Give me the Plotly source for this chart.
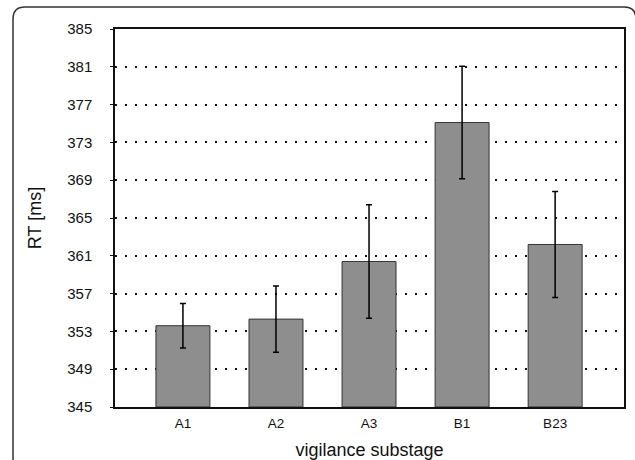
import plotly.graph_objects as go

categories = ["A1", "A2", "A3", "B1", "B23"]
rt_mean = [353.6, 354.3, 360.4, 375.1, 362.2]
rt_err = [2.35, 3.5, 6.0, 5.95, 5.6]
y_ticks = [345, 349, 353, 357, 361, 365, 369, 373, 377, 381, 385]

W, H = 635, 460
L, R, T, B = 115, 11, 29, 53
pw, ph = W - L - R, H - T - B

def px(x):
    return (x - L) / pw

def py(y):
    return (H - B - y) / ph

fig = go.Figure()
fig.add_trace(go.Bar(
    x=list(range(len(categories))),
    y=[v - 345 for v in rt_mean],
    base=345,
    width=0.58,
    marker=dict(color="#8e8e8e", line=dict(color="#333333", width=1)),
    error_y=dict(type="data", array=rt_err, color="#000000", thickness=1.5, width=3),
    showlegend=False,
))

font = "Liberation Sans, Arial, Helvetica, sans-serif"
fig.update_layout(
    width=W, height=H,
    margin=dict(l=L, r=R, t=T, b=B),
    plot_bgcolor="white", paper_bgcolor="white",
    font=dict(family=font, color="#111111"),
    bargap=0.4,
    xaxis=dict(
        range=[-0.73, 4.74],
        tickvals=list(range(len(categories))),
        ticktext=categories,
        tickfont=dict(size=13.5),
        showgrid=False, zeroline=False,
        showline=True, linecolor="#111111", linewidth=1.5, mirror=True,
        ticks="",
        ticklabelstandoff=3,
        automargin=False,
        title=dict(text="vigilance substage", font=dict(size=18), standoff=17),
    ),
    yaxis=dict(
        range=[345, 385],
        tickvals=y_ticks,
        tickfont=dict(size=15),
        showgrid=True, gridcolor="#111111", gridwidth=1.5, griddash="2px,8px",
        zeroline=False,
        showline=True, linecolor="#111111", linewidth=1.5, mirror=True,
        ticks="outside", ticklen=3, tickcolor="#111111",
        ticklabelstandoff=15,
        automargin=False,
        title=dict(text="RT [ms]", font=dict(size=18), standoff=21),
    ),
)

# rounded outer frame
path = (f"M {px(13)},{py(480)} L {px(13)},{py(19)} Q {px(13)},{py(7)} {px(25)},{py(7)} "
        f"L {px(624)},{py(7)} Q {px(636)},{py(7)} {px(636)},{py(19)} L {px(636)},{py(480)}")
fig.add_shape(type="path", xref="paper", yref="paper", path=path,
              line=dict(color="#333333", width=1.5), layer="above")

fig.write_html("out.html", config={"displayModeBar": False},
               post_script="document.body.style.margin='0';document.body.style.overflow='hidden';")
